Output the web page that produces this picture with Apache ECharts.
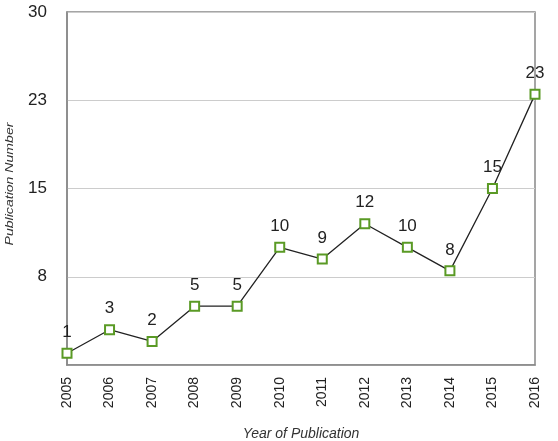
<!DOCTYPE html>
<html>
<head>
<meta charset="utf-8">
<script src="https://cdn.jsdelivr.net/npm/echarts@6/dist/echarts.min.js"></script>
<style>
html,body{margin:0;padding:0;background:#fff;}
#c{width:558px;height:441px;}
</style>
</head>
<body>
<div id="c"></div>
<script>
const years = ['2005','2006','2007','2008','2009','2010','2011','2012','2013','2014','2015','2016'];
const publications = [1,3,2,5,5,10,9,12,10,8,15,23];
const yTickLabels = {7.5:'8', 15:'15', 22.5:'23', 30:'30'};
const yAxisTitle = 'Publication Number';
const xAxisTitle = 'Year of Publication';

const chart = echarts.init(document.getElementById('c'), null, {renderer:'canvas'});
chart.setOption({
  animation:false,
  backgroundColor:'#fff',
  textStyle:{fontFamily:'Liberation Sans, Arial, sans-serif'},
  grid:{left:67,right:23,top:12,bottom:76,outerBoundsMode:'none',containLabel:false,show:true,borderColor:'#888',borderWidth:1.5,backgroundColor:'transparent'},
  graphic:[{
    type:'text',
    x:10, y:184,
    rotation:Math.PI/2,
    scaleX:1.28,
    style:{text:yAxisTitle,fontSize:11,fontStyle:'italic',fontFamily:'Liberation Sans, Arial, sans-serif',fill:'#333',align:'center',verticalAlign:'middle'}
  }],
  xAxis:{
    type:'category',
    data:years,
    boundaryGap:false,
    name:xAxisTitle,
    nameLocation:'middle',
    nameGap:62,
    nameTextStyle:{fontStyle:'italic',fontSize:14,color:'#333'},
    axisLine:{show:true,lineStyle:{color:'#888',width:1.5}},
    axisTick:{show:false},
    axisLabel:{rotate:90,fontSize:14,color:'#222',margin:12},
    splitLine:{show:false}
  },
  yAxis:{
    type:'value',
    min:0,max:30,interval:7.5,
    axisLine:{show:true,lineStyle:{color:'#888',width:1.5}},
    axisTick:{show:false},
    axisLabel:{fontSize:17,color:'#222',margin:20,formatter:v=>yTickLabels[v]||''},
    splitLine:{show:true,lineStyle:{color:'#ccc',width:1}}
  },
  series:[{
    type:'line',
    data:publications,
    symbol:'rect',
    symbolSize:9,
    itemStyle:{color:'#fff',borderColor:'#5a9a25',borderWidth:2},
    lineStyle:{color:'#222',width:1.3},
    label:{show:true,position:'top',distance:7,fontSize:17,color:'#222'}
  }]
});
</script>
</body>
</html>
